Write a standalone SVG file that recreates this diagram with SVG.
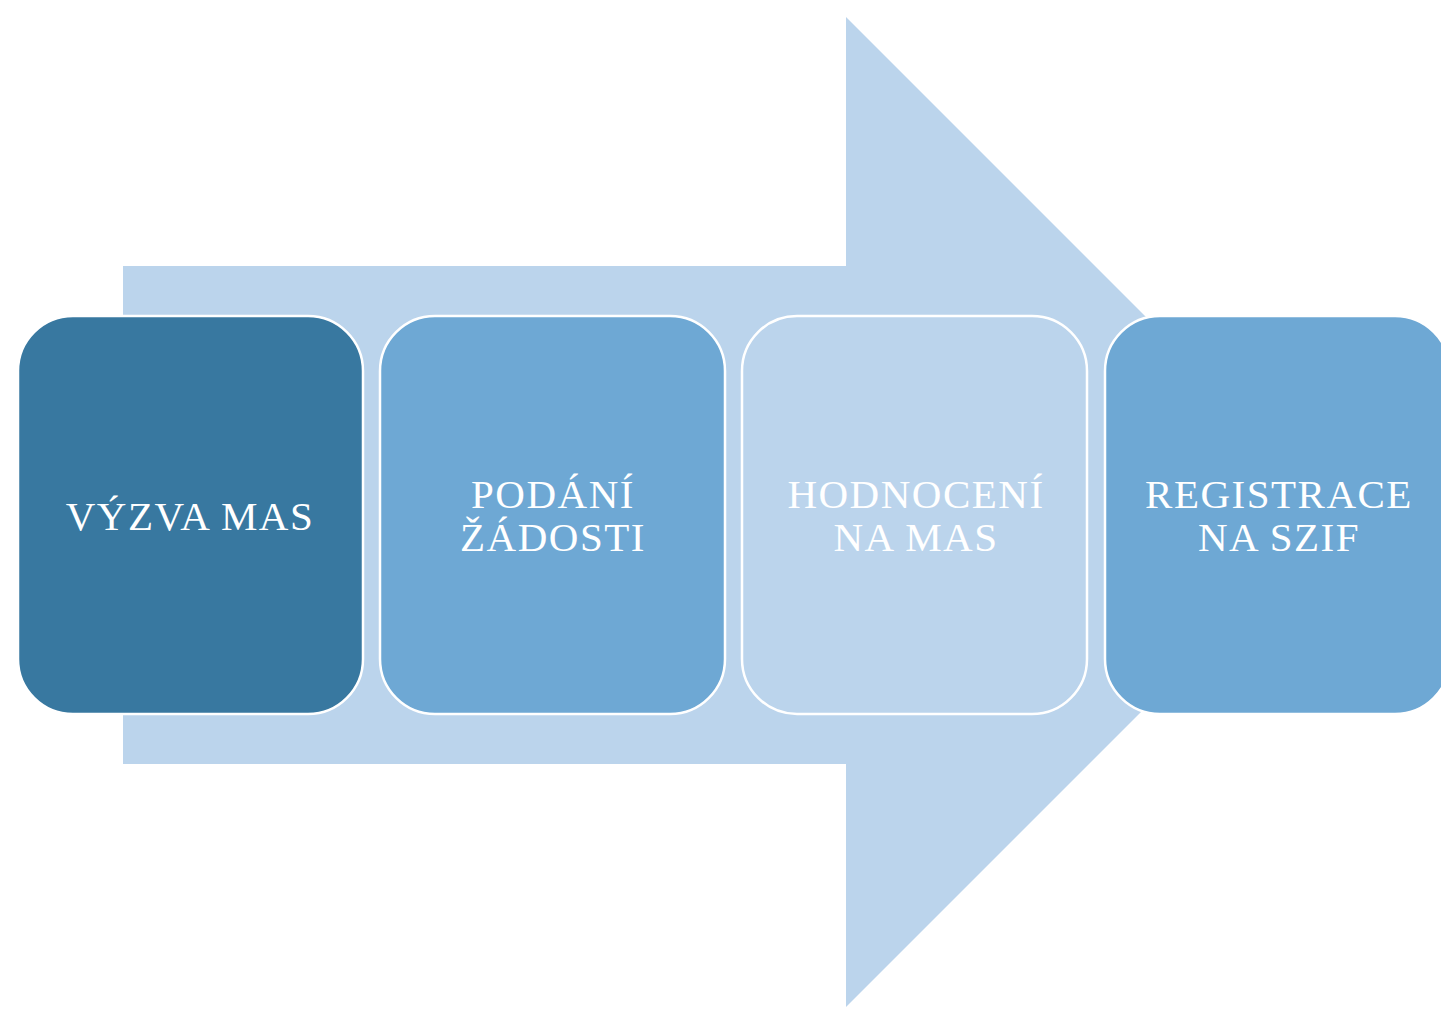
<svg xmlns="http://www.w3.org/2000/svg" width="1441" height="1009" viewBox="0 0 1441 1009">
<style>
.box{stroke:#ffffff;stroke-width:2.5}
.lbl{font-family:"Liberation Serif","DejaVu Serif",serif;font-size:41px;letter-spacing:1.5px;fill:#ffffff;text-anchor:middle}
</style>
<rect width="1441" height="1009" fill="#ffffff"/>
<g id="arrow">
<polygon points="123,266 846,266 846,17 1341,512 846,1007 846,764 123,764" fill="#bbd4ec"/>
</g>
<g id="node1">
<rect class="box" x="18" y="316" width="345" height="398" rx="55" fill="#3878a0"/>
<text class="lbl" x="190" y="530">VÝZVA MAS</text>
</g>
<g id="node2">
<rect class="box" x="380" y="316" width="345" height="398" rx="55" fill="#6ea8d4"/>
<text class="lbl" x="553" y="508">PODÁNÍ</text>
<text class="lbl" x="553" y="551">ŽÁDOSTI</text>
</g>
<g id="node3">
<rect class="box" x="742" y="316" width="345" height="398" rx="55" fill="#bbd4ec"/>
<text class="lbl" x="916" y="508">HODNOCENÍ</text>
<text class="lbl" x="916" y="551">NA MAS</text>
</g>
<g id="node4">
<rect class="box" x="1105" y="316" width="345" height="398" rx="55" fill="#6ea8d4"/>
<text class="lbl" x="1279" y="508">REGISTRACE</text>
<text class="lbl" x="1279" y="551">NA SZIF</text>
</g>
<g id="connectors"></g>
</svg>
